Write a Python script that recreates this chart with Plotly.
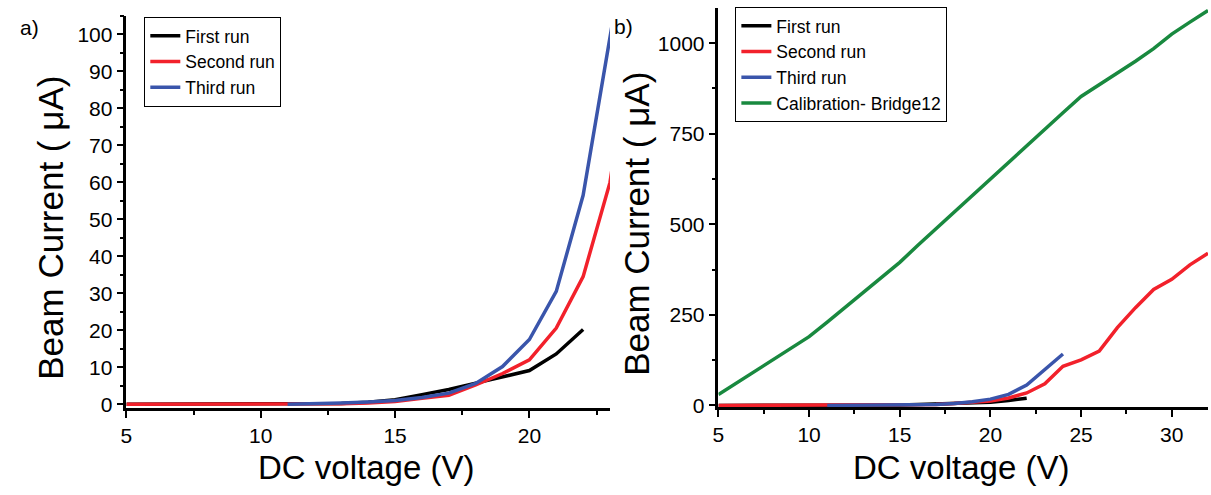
import plotly.graph_objects as go

# DC voltage (V) and beam current (uA) per run
v_first = [5, 6, 7, 8, 9, 10, 11, 12, 13, 14, 15, 16, 17, 18, 19, 20, 21, 22]
i_first = [0, 0, 0, 0, 0, 0, 0, 0, 0.2, 0.5, 1.2, 2.6, 4.0, 5.7, 7.5, 9.1, 13.6, 20.2]

v_second = [5, 6, 7, 8, 9, 10, 11, 12, 13, 14, 15, 16, 17, 18, 19, 20, 21, 22, 23,
            24, 25, 26, 27, 28, 29, 30, 31, 32]
i_second = [0, 0, 0, 0, 0, 0, 0, 0, 0.1, 0.3, 0.7, 1.6, 2.4, 5.2, 8.3, 12.0, 20.6, 34.5, 60,
            108, 126, 150, 215, 270, 320, 348, 388, 420]

v_third = [11, 12, 13, 14, 15, 16, 17, 18, 19, 20, 21, 22, 23, 24]
i_third = [0, 0.1, 0.3, 0.6, 1.0, 1.8, 3.0, 5.6, 10.2, 17.5, 30.5, 56.5, 98, 142]

v_calib = [5, 6, 7, 8, 9, 10, 11, 12, 13, 14, 15, 16, 17, 18, 19, 20, 21, 22, 23,
           24, 25, 26, 27, 28, 29, 30, 31, 32]
i_calib = [30, 62, 93, 125, 157, 190, 230, 272, 313, 355, 395, 442, 488, 535, 580, 627, 672,
           716, 762, 808, 853, 885, 918, 950, 985, 1025, 1058, 1090]

names = ['First run', 'Second run', 'Third run', 'Calibration- Bridge12']
colors = ['black', '#f2212b', '#3a55ab', '#19893f']

W, H = 1211, 495
FONT = 'Arial, Liberation Sans, sans-serif'
VS = 0.98  # the page comes out slightly squashed vertically, compensate


def fx(px):
    return px / W


def fy(py):
    return 1 - py / (H * VS)


fig = go.Figure()

runs = [(v_first, i_first), (v_second, i_second), (v_third, i_third)]
for k, (vx, iy) in enumerate(runs):
    fig.add_trace(go.Scatter(x=vx, y=iy, mode='lines', name=names[k],
                             line=dict(color=colors[k], width=3.5),
                             xaxis='x', yaxis='y', legend='legend'))

for k, (vx, iy) in enumerate(runs + [(v_calib, i_calib)]):
    fig.add_trace(go.Scatter(x=vx, y=iy, mode='lines', name=names[k],
                             line=dict(color=colors[k], width=3.5),
                             xaxis='x2', yaxis='y2', legend='legend2'))


def axis_style(domain, rng, dtick, minor_dtick, anchor):
    return dict(domain=domain, range=rng, dtick=dtick, tick0=0, anchor=anchor,
                showgrid=False, zeroline=False, showline=True, linecolor='black',
                linewidth=2.5, ticks='outside', ticklen=7, tickwidth=2, tickcolor='black',
                minor=dict(dtick=minor_dtick, tick0=0, ticks='outside', ticklen=4,
                           tickwidth=2, tickcolor='black'),
                tickfont=dict(family=FONT, size=21, color='black'))


legend_box = dict(bgcolor='white', bordercolor='black', borderwidth=1,
                  font=dict(family=FONT, size=17.5, color='black'),
                  xanchor='left', yanchor='top', tracegroupgap=0, itemwidth=30)

fig.update_layout(
    width=W, height=H,
    margin=dict(l=0, r=0, t=0, b=0),
    paper_bgcolor='white', plot_bgcolor='white',
    font=dict(family=FONT, color='black'),
    xaxis=axis_style([fx(121), fx(607)], [5, 23], 5, 2.5, 'y'),
    yaxis=axis_style([fy(408), fy(16)], [-1, 105], 10, 5, 'x'),
    xaxis2=axis_style([fx(716), fx(1208)], [5, 32], 5, 2.5, 'y2'),
    yaxis2=axis_style([fy(407), fy(8)], [-4, 1097], 250, 125, 'x2'),
    legend=dict(legend_box, x=fx(139), y=fy(17)),
    legend2=dict(legend_box, x=fx(733), y=fy(7)),
    showlegend=True,
)

labels = [
    ('a)', 24, 28, 0, 21),
    ('b)', 621, 27, 0, 21),
    ('Beam Current ( μA)', 45, 228, -90, 35),
    ('DC voltage (V)', 362, 468, 0, 33),
    ('Beam Current ( μA)', 634, 224, -90, 35),
    ('DC voltage (V)', 960, 468, 0, 33),
]
for text, px, py, ang, size in labels:
    fig.add_annotation(text=text, x=fx(px), y=fy(py), xref='paper', yref='paper',
                       showarrow=False, textangle=ang, xanchor='center', yanchor='middle',
                       font=dict(family=FONT, size=size, color='black'))

# no page margin / scrollbars, so the figure fills the window exactly
page_js = ("document.documentElement.style.overflow='hidden';"
           "document.body.style.margin='0';"
           "document.body.style.overflow='hidden';")
fig.write_html("out.html", config={'displayModeBar': False}, post_script=page_js)
